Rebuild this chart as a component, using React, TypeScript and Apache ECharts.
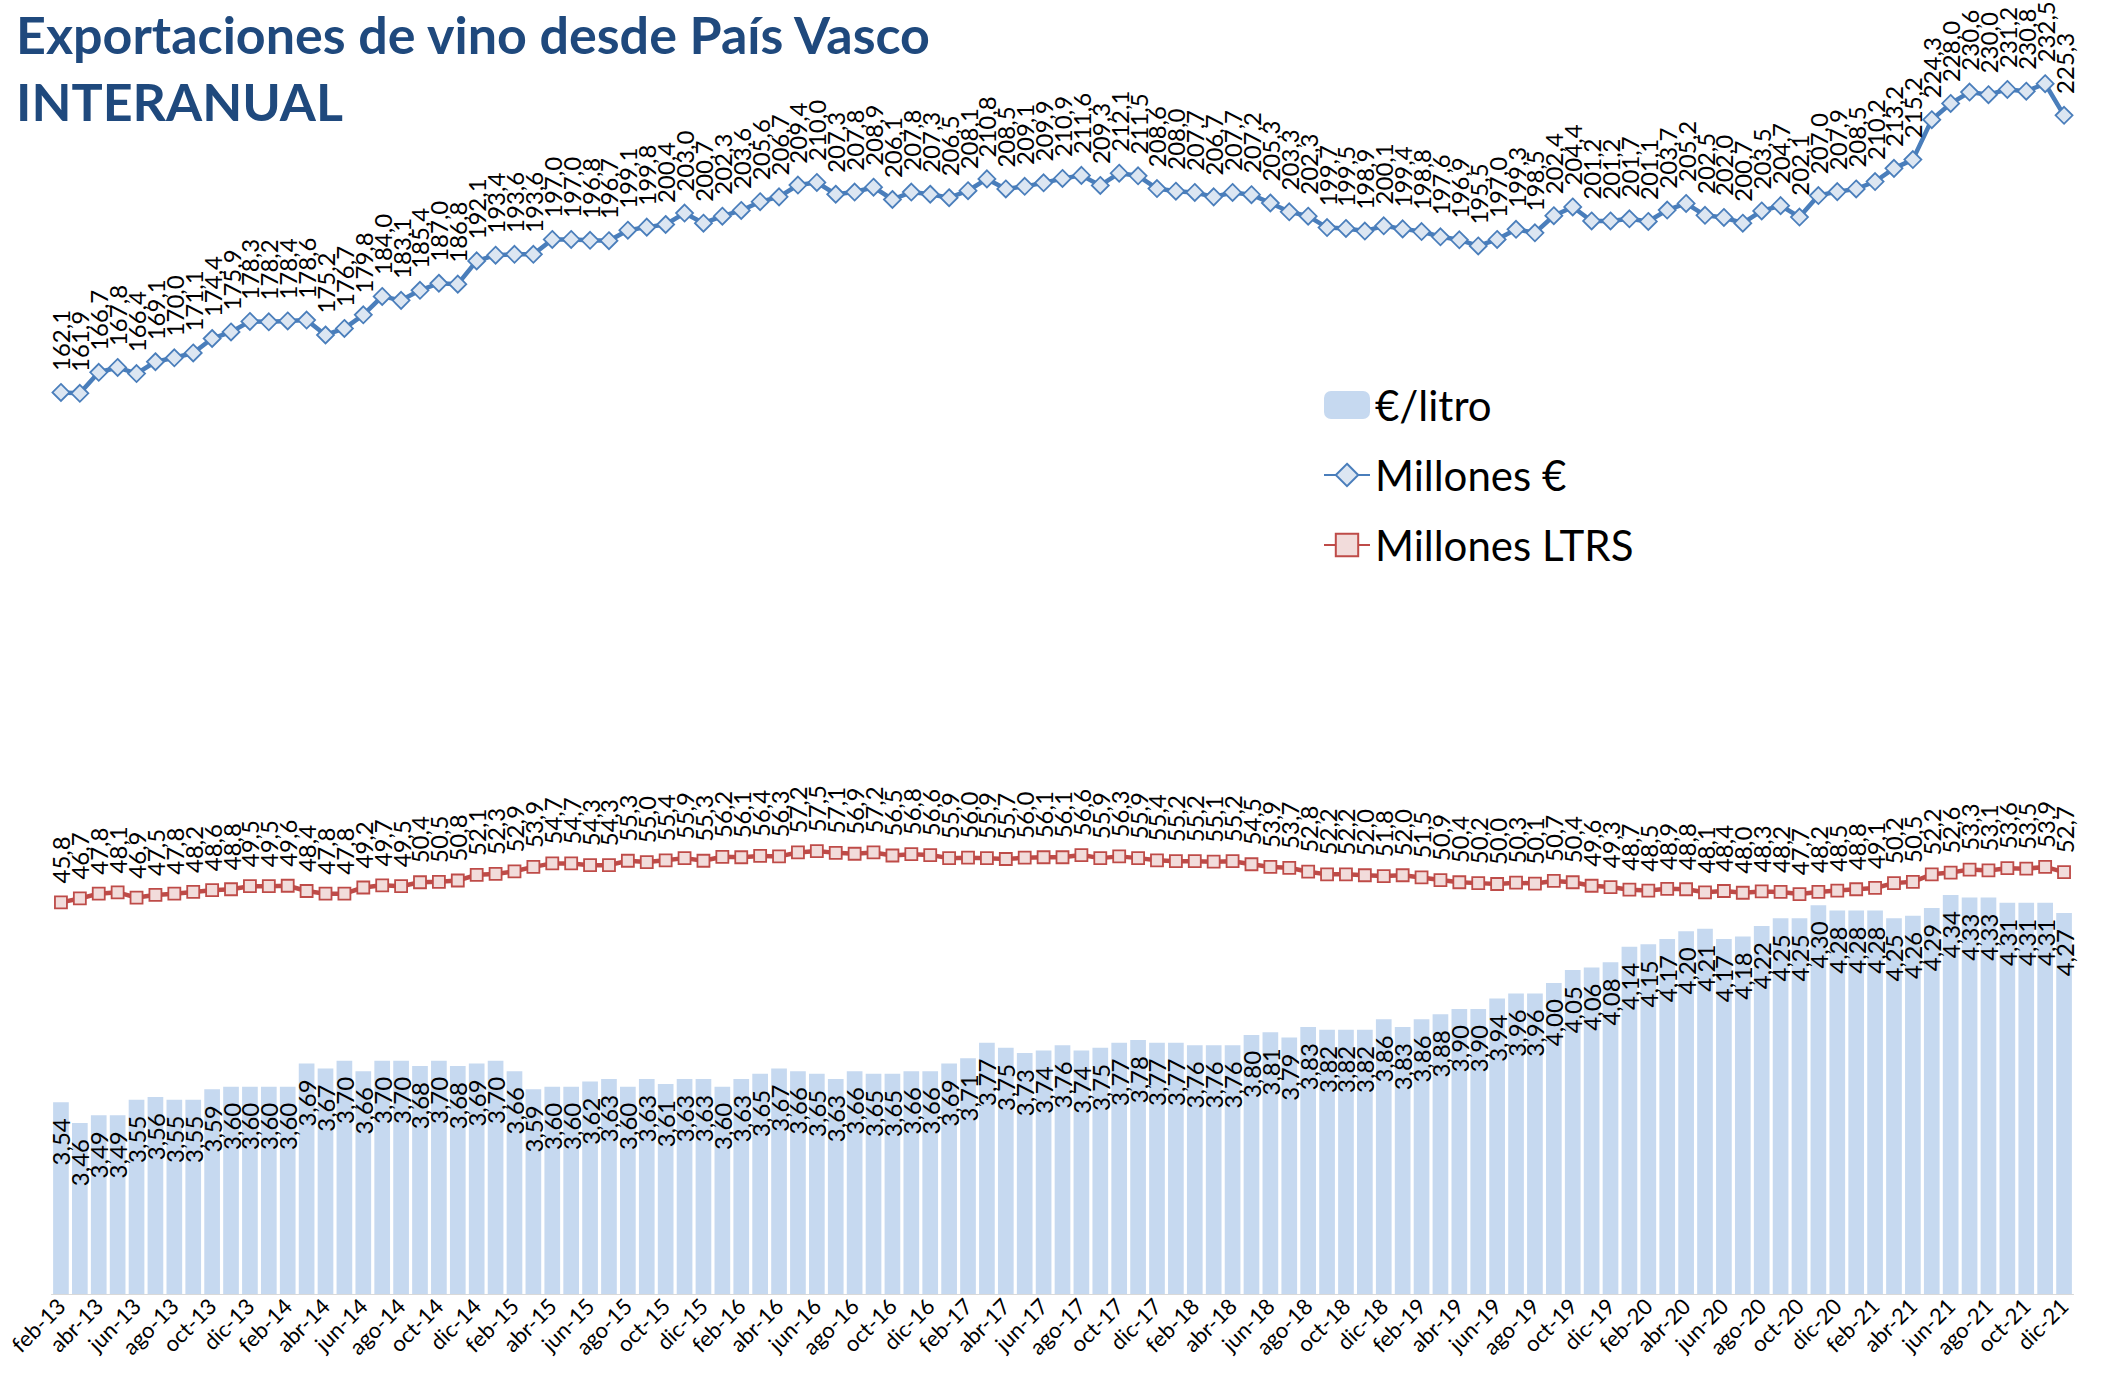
import React, { useEffect, useRef } from "react";
import * as echarts from "echarts";

const monthNames = ["ene", "feb", "mar", "abr", "may", "jun", "jul", "ago", "sep", "oct", "nov", "dic"];
const years = [13, 14, 15, 16, 17, 18, 19, 20, 21];

const categories: string[] = [];
years.forEach((y) => {
  monthNames.forEach((m, i) => {
    if (y === 13 && i === 0) return;
    categories.push(`${m}-${y}`);
  });
});

const euroPerLitre = [
  3.54, 3.46, 3.49, 3.49, 3.55, 3.56, 3.55, 3.55, 3.59, 3.60,
  3.60, 3.60, 3.60, 3.69, 3.67, 3.70, 3.66, 3.70, 3.70, 3.68,
  3.70, 3.68, 3.69, 3.70, 3.66, 3.59, 3.60, 3.60, 3.62, 3.63,
  3.60, 3.63, 3.61, 3.63, 3.63, 3.60, 3.63, 3.65, 3.67, 3.66,
  3.65, 3.63, 3.66, 3.65, 3.65, 3.66, 3.66, 3.69, 3.71, 3.77,
  3.75, 3.73, 3.74, 3.76, 3.74, 3.75, 3.77, 3.78, 3.77, 3.77,
  3.76, 3.76, 3.76, 3.80, 3.81, 3.79, 3.83, 3.82, 3.82, 3.82,
  3.86, 3.83, 3.86, 3.88, 3.90, 3.90, 3.94, 3.96, 3.96, 4.00,
  4.05, 4.06, 4.08, 4.14, 4.15, 4.17, 4.20, 4.21, 4.17, 4.18,
  4.22, 4.25, 4.25, 4.30, 4.28, 4.28, 4.28, 4.25, 4.26, 4.29,
  4.34, 4.33, 4.33, 4.31, 4.31, 4.31, 4.27,
];

const millonesEuro = [
  162.1, 161.9, 166.7, 167.8, 166.4, 169.1, 170.0, 171.1, 174.4, 175.9,
  178.3, 178.2, 178.4, 178.6, 175.2, 176.7, 179.8, 184.0, 183.1, 185.4,
  187.0, 186.8, 192.1, 193.4, 193.6, 193.6, 197.0, 197.0, 196.8, 196.7,
  199.1, 199.8, 200.4, 203.0, 200.7, 202.3, 203.6, 205.6, 206.7, 209.4,
  210.0, 207.3, 207.8, 208.9, 206.1, 207.8, 207.3, 206.5, 208.1, 210.8,
  208.5, 209.1, 209.9, 210.9, 211.6, 209.3, 212.1, 211.5, 208.6, 208.0,
  207.7, 206.7, 207.7, 207.2, 205.3, 203.3, 202.3, 199.7, 199.5, 198.9,
  200.1, 199.4, 198.8, 197.6, 196.9, 195.5, 197.0, 199.3, 198.5, 202.4,
  204.4, 201.2, 201.2, 201.7, 201.1, 203.7, 205.2, 202.5, 202.0, 200.7,
  203.5, 204.7, 202.1, 207.0, 207.9, 208.5, 210.2, 213.2, 215.2, 224.3,
  228.0, 230.6, 230.0, 231.2, 230.8, 232.5, 225.3,
];

const millonesLitros = [
  45.8, 46.7, 47.8, 48.1, 46.9, 47.5, 47.8, 48.2, 48.6, 48.8,
  49.5, 49.5, 49.6, 48.4, 47.8, 47.8, 49.2, 49.7, 49.5, 50.4,
  50.5, 50.8, 52.1, 52.3, 52.9, 53.9, 54.7, 54.7, 54.3, 54.3,
  55.3, 55.0, 55.4, 55.9, 55.3, 56.2, 56.1, 56.4, 56.3, 57.2,
  57.5, 57.1, 56.9, 57.2, 56.5, 56.8, 56.6, 55.9, 56.0, 55.9,
  55.7, 56.0, 56.1, 56.1, 56.6, 55.9, 56.3, 55.9, 55.4, 55.2,
  55.2, 55.1, 55.2, 54.5, 53.9, 53.7, 52.8, 52.2, 52.2, 52.0,
  51.8, 52.0, 51.5, 50.9, 50.4, 50.2, 50.0, 50.3, 50.1, 50.7,
  50.4, 49.6, 49.3, 48.7, 48.5, 48.9, 48.8, 48.1, 48.4, 48.0,
  48.3, 48.2, 47.7, 48.2, 48.5, 48.8, 49.1, 50.2, 50.5, 52.2,
  52.6, 53.3, 53.1, 53.6, 53.5, 53.9, 52.7,
];

const FONT = "Lato";
const LABEL_SIZE = 24;

const fmt = (d: number) => (v: any) => Number(v.value).toFixed(d).replace(".", ",");

export default function App() {
  const ref = useRef<HTMLDivElement>(null);
  useEffect(() => {
    if (!ref.current) return;
    const chart = echarts.init(ref.current, null, { renderer: "svg" });
    const lineLabel = {
      show: true,
      position: "top" as const,
      rotate: 90,
      align: "left" as const,
      verticalAlign: "middle" as const,
      distance: 12,
      fontSize: LABEL_SIZE,
      fontFamily: FONT,
      color: "#000",
      formatter: fmt(1),
    };
    chart.setOption({
      animation: false,
      backgroundColor: "#fff",
      textStyle: { fontFamily: FONT },
      title: {
        text: "Exportaciones de vino desde País Vasco\nINTERANUAL",
        left: 11,
        top: -5,
        padding: 5,
        textStyle: {
          fontFamily: FONT,
          fontSize: 52,
          fontWeight: "bold",
          color: "#1F497D",
          lineHeight: 67,
        },
      },
      legend: {
        orient: "vertical",
        left: 1318,
        top: 379,
        itemGap: 28,
        itemWidth: 46,
        itemHeight: 28,
        textStyle: { fontSize: 42, fontFamily: FONT, color: "#000" },
        data: ["€/litro", "Millones €", "Millones LTRS"],
      },
      grid: { left: 51.5, right: 28.5, top: 7, bottom: 94, containLabel: false },
      xAxis: {
        type: "category",
        data: categories,
        boundaryGap: true,
        axisLine: { onZero: false, lineStyle: { color: "#D9D9D9", width: 1 } },
        axisTick: { show: false },
        axisLabel: {
          interval: 1,
          rotate: 45,
          fontSize: 22,
          fontFamily: FONT,
          color: "#000",
          margin: 8,
        },
      },
      yAxis: [
        { type: "value", min: -43.5, max: 250, show: false, splitLine: { show: false } },
        { type: "value", min: 2.8, max: 7.767, show: false, splitLine: { show: false } },
      ],
      series: [
        {
          name: "€/litro",
          type: "bar",
          yAxisIndex: 1,
          data: euroPerLitre,
          barCategoryGap: "17%",
          itemStyle: { color: "#C6D9F0" },
          label: {
            show: true,
            position: "insideTop",
            rotate: 90,
            align: "right",
            verticalAlign: "middle",
            distance: 16,
            fontSize: LABEL_SIZE,
            fontFamily: FONT,
            color: "#000",
            formatter: fmt(2),
          },
        },
        {
          name: "Millones €",
          type: "line",
          yAxisIndex: 0,
          data: millonesEuro,
          symbol: "diamond",
          symbolSize: 17,
          showAllSymbol: true,
          lineStyle: { color: "#4A7EBB", width: 4.5 },
          itemStyle: { color: "#DCE6F2", borderColor: "#4A7EBB", borderWidth: 1.8 },
          label: lineLabel,
          labelLayout: { hideOverlap: false },
          z: 3,
        },
        {
          name: "Millones LTRS",
          type: "line",
          yAxisIndex: 0,
          data: millonesLitros,
          symbol: "rect",
          symbolSize: 12,
          showAllSymbol: true,
          lineStyle: { color: "#BE4B48", width: 4.5 },
          itemStyle: { color: "#F2DCDB", borderColor: "#BE4B48", borderWidth: 1.8 },
          label: lineLabel,
          labelLayout: { hideOverlap: false },
          z: 3,
        },
      ],
    });
    return () => chart.dispose();
  }, []);
  return (
    <div
      ref={ref}
      style={{ position: "fixed", left: 0, top: 0, width: 2102, height: 1388, background: "#fff" }}
    />
  );
}
